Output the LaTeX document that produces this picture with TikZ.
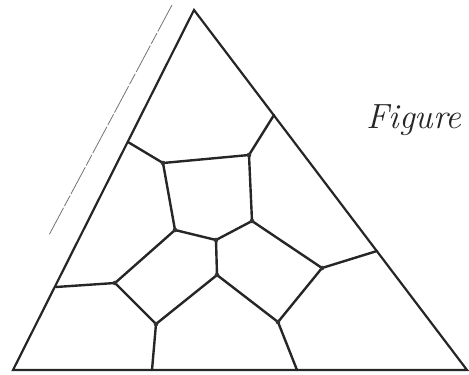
\documentclass[tikz,border=0pt]{standalone}
\begin{document}
\begin{tikzpicture}[x=1pt,y=-1pt,
  edge/.style={line width=2.4pt,draw=black!85,line join=round,line cap=round},
  wall/.style={line width=2.2pt,draw=black!85,line join=miter},
  guide/.style={line width=0.8pt,draw=black!55,dash pattern=on 30pt off 2pt on 12pt off 2pt},
  blob/.style={fill=black!80,inner sep=0pt,minimum size=4.6pt,circle,draw=none}]
\useasboundingbox (0,0) rectangle (469,375);
% triangle
\coordinate (T) at (194,10);
\coordinate (BL) at (13,370);
\coordinate (BR) at (467,370);
\draw[wall] (T) -- (BL) -- (BR) -- cycle;
% guide line
\coordinate (g1) at (172,5);
\coordinate (g2) at (49,235);
\draw[guide] (g1) -- (g2);
% vertices
\coordinate (L1) at (128,142);
\coordinate (A) at (163,163);
\coordinate (B) at (249,155);
\coordinate (R1) at (274,115);
\coordinate (C) at (252,221);
\coordinate (D) at (175,230);
\coordinate (E) at (216,240);
\coordinate (F) at (217,275);
\coordinate (G) at (115,283);
\coordinate (L2) at (56,287);
\coordinate (H) at (322,268);
\coordinate (R2) at (377,251);
\coordinate (I) at (156,324);
\coordinate (J) at (278,322);
\coordinate (B1) at (152,370);
\coordinate (B2) at (297,370);
% cell walls
\draw[edge] (L1) -- (A) -- (B) -- (R1);
\draw[edge] (A) -- (D) -- (E) -- (C) -- (B);
\draw[edge] (E) -- (F);
\draw[edge] (C) -- (H) -- (R2);
\draw[edge] (D) -- (G) -- (L2);
\draw[edge] (G) -- (I) -- (F) -- (J) -- (H);
\draw[edge] (I) -- (B1);
\draw[edge] (J) -- (B2);
% junction blobs
\foreach \p in {A,B,C,D,E,F,G,H,I,J} \node[blob] at (\p) {};
% label
\node[anchor=base west,inner sep=0pt,font=\itshape\fontsize{35}{35}\selectfont,text=black!85] (lbl) at (366,128) {Figure};
\end{tikzpicture}
\end{document}
